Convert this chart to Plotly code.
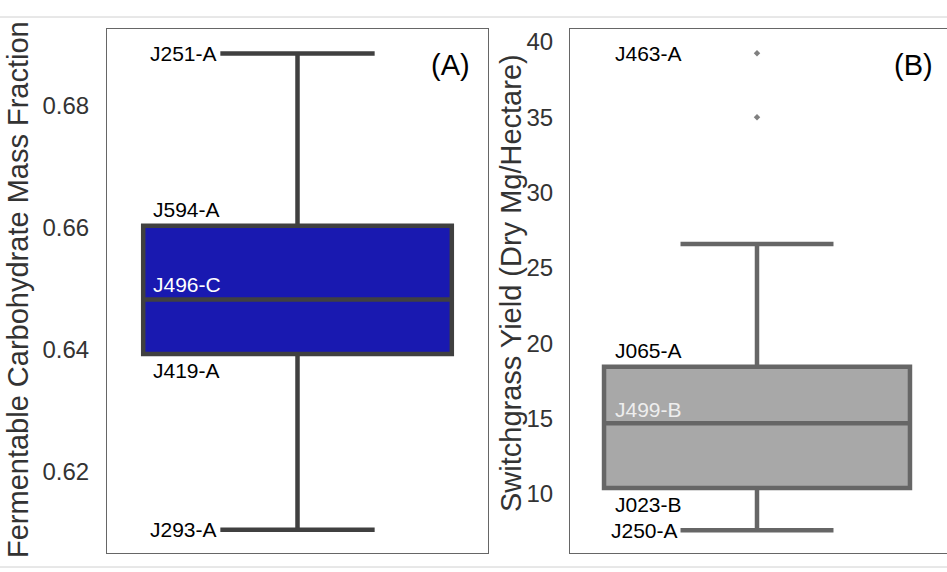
import plotly.graph_objects as go

# ---- data ----
carb_stats = {"lower": 0.6105, "q1": 0.6393, "median": 0.6482, "q3": 0.6603, "upper": 0.6885}
carb_labels = {"upper": "J251-A", "q3": "J594-A", "median": "J496-C", "q1": "J419-A", "lower": "J293-A"}

yield_stats = {"lower": 7.6, "q1": 10.4, "median": 14.7, "q3": 18.45, "upper": 26.6}
yield_outliers = [35.0, 39.25]
yield_labels = {"outlier": "J463-A", "q3": "J065-A", "median": "J499-B", "q1": "J023-B", "lower": "J250-A"}

left_ticks = [0.62, 0.64, 0.66, 0.68]
right_ticks = [10, 15, 20, 25, 30, 35, 40]

FONT = "Liberation Sans, Arial, sans-serif"

fig = go.Figure()

fig.add_trace(go.Box(
    x=[0], q1=[carb_stats["q1"]], median=[carb_stats["median"]], q3=[carb_stats["q3"]],
    lowerfence=[carb_stats["lower"]], upperfence=[carb_stats["upper"]],
    width=0.81, whiskerwidth=0.5, fillcolor="#1919b0",
    line=dict(color="#404040", width=4.5), boxpoints=False,
    xaxis="x", yaxis="y", showlegend=False, hoverinfo="y"))

fig.add_trace(go.Box(
    x=[0], q1=[yield_stats["q1"]], median=[yield_stats["median"]], q3=[yield_stats["q3"]],
    lowerfence=[yield_stats["lower"]], upperfence=[yield_stats["upper"]],
    width=0.818, whiskerwidth=0.5, fillcolor="#a8a8a8",
    line=dict(color="#666666", width=4.5), boxpoints=False,
    xaxis="x2", yaxis="y2", showlegend=False, hoverinfo="y"))

fig.add_trace(go.Scatter(
    x=[0] * len(yield_outliers), y=yield_outliers, mode="markers",
    marker=dict(symbol="diamond", size=5, color="#808080"),
    xaxis="x2", yaxis="y2", showlegend=False))

axis_common = dict(showgrid=False, zeroline=False, showline=True, mirror=True,
                   linecolor="#666666", linewidth=1)

fig.update_layout(
    width=947, height=572,
    margin=dict(l=0, r=0, t=0, b=0),
    paper_bgcolor="white", plot_bgcolor="white",
    font=dict(family=FONT, color="#333333"),
    xaxis=dict(domain=[0.113, 0.5153], range=[-0.5, 0.5], showticklabels=False, ticks="", **axis_common),
    yaxis=dict(domain=[0.0332, 0.9493], range=[0.6067, 0.6925], tickvals=left_ticks,
               ticktext=[f"{v:.2f}" for v in left_ticks], ticks="", ticklabelstandoff=12,
               tickfont=dict(size=24, color="#333333", family=FONT), **axis_common),
    xaxis2=dict(domain=[0.6019, 1.0], range=[-0.5, 0.508], showticklabels=False, ticks="", **axis_common),
    yaxis2=dict(domain=[0.0332, 0.9493], range=[6.09, 40.86], tickvals=right_ticks, ticks="",
                ticklabelstandoff=11, anchor="x2",
                tickfont=dict(size=24, color="#333333", family=FONT), **axis_common),
)

ann = []
lab = dict(size=21, color="black", family=FONT)
# left panel labels
ann += [
    dict(x=-0.2, y=carb_stats["upper"], xref="x", yref="y", text=carb_labels["upper"],
         xanchor="right", yanchor="middle", xshift=-2, font=lab),
    dict(x=-0.4, y=carb_stats["q3"], xref="x", yref="y", text=carb_labels["q3"],
         xanchor="left", yanchor="bottom", xshift=6, yshift=3, font=lab),
    dict(x=-0.4, y=carb_stats["median"], xref="x", yref="y", text=carb_labels["median"],
         xanchor="left", yanchor="bottom", xshift=6, yshift=2, font=dict(lab, color="white")),
    dict(x=-0.4, y=carb_stats["q1"], xref="x", yref="y", text=carb_labels["q1"],
         xanchor="left", yanchor="top", xshift=6, yshift=-3, font=lab),
    dict(x=-0.2, y=carb_stats["lower"], xref="x", yref="y", text=carb_labels["lower"],
         xanchor="right", yanchor="middle", xshift=-2, font=lab),
    dict(x=1, y=1, xref="x domain", yref="y domain", text="(A)", xanchor="right",
         yanchor="top", xshift=-16, yshift=-18, font=dict(size=29, color="black", family=FONT)),
]
# right panel labels
ann += [
    dict(x=-0.4, y=max(yield_outliers), xref="x2", yref="y2", text=yield_labels["outlier"],
         xanchor="left", yanchor="middle", xshift=6, font=lab),
    dict(x=-0.4, y=yield_stats["q3"], xref="x2", yref="y2", text=yield_labels["q3"],
         xanchor="left", yanchor="bottom", xshift=6, yshift=3, font=lab),
    dict(x=-0.4, y=yield_stats["median"], xref="x2", yref="y2", text=yield_labels["median"],
         xanchor="left", yanchor="bottom", xshift=6, yshift=0, font=dict(lab, color="#eeeeee")),
    dict(x=-0.4, y=yield_stats["q1"], xref="x2", yref="y2", text=yield_labels["q1"],
         xanchor="left", yanchor="top", xshift=6, yshift=-3, font=lab),
    dict(x=-0.2, y=yield_stats["lower"], xref="x2", yref="y2", text=yield_labels["lower"],
         xanchor="right", yanchor="middle", xshift=-2, font=lab),
    dict(x=1, y=1, xref="x2 domain", yref="y2 domain", text="(B)", xanchor="right",
         yanchor="top", xshift=-12, yshift=-18, font=dict(size=29, color="black", family=FONT)),
]
# axis titles
ann += [
    dict(x=18 / 947, y=1 - 290 / 572, xref="paper", yref="paper", text="Fermentable Carbohydrate Mass Fraction",
         textangle=-90, xanchor="center", yanchor="middle", showarrow=False,
         font=dict(size=29, color="#333333", family=FONT)),
    dict(x=511 / 947, y=1 - 283 / 572, xref="paper", yref="paper", text="Switchgrass Yield (Dry Mg/Hectare)",
         textangle=-90, xanchor="center", yanchor="middle", showarrow=False,
         font=dict(size=29, color="#333333", family=FONT)),
]
for a in ann:
    a.setdefault("showarrow", False)
fig.update_layout(annotations=ann)

fig.update_layout(shapes=[
    dict(type="line", xref="paper", yref="paper", x0=0, x1=1, y0=1 - 17 / 572, y1=1 - 17 / 572,
         line=dict(color="#d0d0d0", width=1)),
    dict(type="line", xref="paper", yref="paper", x0=0, x1=1, y0=1 - 567 / 572, y1=1 - 567 / 572,
         line=dict(color="#d0d0d0", width=1)),
])

fig.write_html("out.html")
